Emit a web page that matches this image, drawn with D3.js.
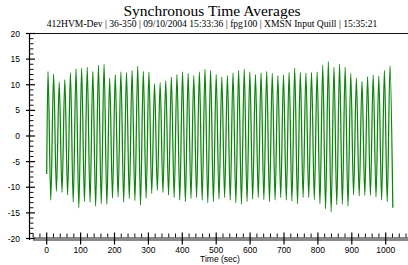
<!DOCTYPE html>
<html><head><meta charset="utf-8">
<script src="https://cdn.jsdelivr.net/npm/d3@7"></script>
<style>body{margin:0;background:#fff}svg{display:block}</style>
</head><body>
<script>
const titleText = "Synchronous Time Averages";
const subtitleText = "412HVM-Dev | 36-350 | 09/10/2004 15:33:36 | fpg100 | XMSN Input Quill | 15:35:21";
const xLabel = "Time (sec)";
const yTicks = [-20, -15, -10, -5, 0, 5, 10, 15, 20];
const xTicks = [0, 100, 200, 300, 400, 500, 600, 700, 800, 900, 1000];
const startTime = 0, startValue = -7.4;
const firstPeakTime = 3.8, cyclePeriod = 16.54;
const peaks = [12.6, 12.1, 10.5, 11.0, 12.3, 13.1, 13.2, 13.4, 12.6, 13.8, 14.0, 11.3, 12.0, 12.5, 12.4, 12.8, 13.6, 12.6, 12.5, 10.2, 10.4,
  10.8, 11.5, 12.0, 12.5, 12.2, 11.8, 12.5, 13.0, 12.8, 12.0, 11.5, 11.8, 12.3, 12.8, 13.0, 12.5, 12.0, 12.3, 12.6, 12.2, 11.8,
  11.9, 12.4, 13.2, 12.4, 12.3, 12.4, 12.5, 13.8, 14.5, 13.4, 14.0, 13.4, 12.2, 11.3, 10.7, 11.6, 11.9, 11.7, 12.8, 13.7];
const troughs = [-12.5, -10.8, -11.0, -11.5, -12.9, -14.0, -12.8, -12.9, -13.7, -13.2, -13.3, -12.1, -11.9, -12.9, -12.2, -12.6, -13.5, -12.1, -11.2, -10.6,
  -11.0, -11.5, -12.0, -12.5, -12.8, -12.2, -12.0, -12.5, -13.0, -12.8, -12.3, -12.0, -12.5, -13.0, -13.3, -12.8, -12.3, -12.0, -12.4, -12.8, -12.5,
  -12.0, -12.5, -12.7, -13.2, -12.0, -12.0, -12.4, -13.2, -14.2, -14.8, -13.4, -13.3, -13.7, -11.5, -11.7, -11.6, -11.6, -11.9, -12.5, -12.8, -14.0];

const W = 408, H = 265;
const svg = d3.select("body").append("svg").attr("width", W).attr("height", H);
const x = d3.scaleLinear().domain([0, 1000]).range([46.7, 385.7]);
const y = d3.scaleLinear().domain([-20, 20]).range([238.5, 33.5]);

const data = [[startTime, startValue]];
peaks.forEach((p, i) => {
  data.push([firstPeakTime + i * cyclePeriod, p]);
  data.push([firstPeakTime + (i + 0.5) * cyclePeriod, troughs[i]]);
});

svg.append("text").attr("x", 212).attr("y", 16).attr("text-anchor", "middle")
  .style("font-family", "'Liberation Serif', serif").style("font-size", "15.5px").text(titleText);
svg.append("text").attr("x", 212).attr("y", 26.5).attr("text-anchor", "middle")
  .style("font-family", "'Liberation Serif', serif").style("font-size", "9.6px").text(subtitleText);

svg.append("line").attr("x1", 29).attr("x2", W).attr("y1", 33.5).attr("y2", 33.5)
  .attr("stroke", "#111").attr("stroke-width", 1.2);

svg.append("rect").attr("x", 33).attr("y", 237).attr("width", W - 33).attr("height", 4).attr("fill", "#8a8a8a");
const xMinor = d3.range(-40, 1070, 20).filter(v => v % 100 !== 0);
svg.append("g").selectAll("line").data(xMinor).join("line")
  .attr("x1", d => x(d)).attr("x2", d => x(d)).attr("y1", 233.5).attr("y2", 237.5)
  .attr("stroke", "#111").attr("stroke-width", 1);
svg.append("g").selectAll("line").data(xTicks).join("line")
  .attr("x1", d => x(d)).attr("x2", d => x(d)).attr("y1", 232.5).attr("y2", 244.5)
  .attr("stroke", "#000").attr("stroke-width", 1.2);
svg.append("g").selectAll("text").data(xTicks).join("text")
  .attr("x", d => x(d)).attr("y", 252.5).attr("text-anchor", "middle")
  .style("font-family", "'Liberation Sans', Arial, sans-serif").style("font-size", "8.5px").text(d => d);
svg.append("text").attr("x", 220).attr("y", 262).attr("text-anchor", "middle")
  .style("font-family", "'Liberation Sans', Arial, sans-serif").style("font-size", "8.5px").text(xLabel);

svg.append("line").attr("x1", 29.5).attr("x2", 29.5).attr("y1", 33).attr("y2", 240)
  .attr("stroke", "#000").attr("stroke-width", 1.2);
const yMinor = d3.range(-20, 21, 1).filter(v => v % 5 !== 0);
svg.append("g").selectAll("line").data(yMinor).join("line")
  .attr("x1", 29.5).attr("x2", 33.5).attr("y1", d => y(d)).attr("y2", d => y(d))
  .attr("stroke", "#111").attr("stroke-width", 1);
svg.append("g").selectAll("line").data(yTicks).join("line")
  .attr("x1", 26).attr("x2", 35).attr("y1", d => y(d)).attr("y2", d => y(d))
  .attr("stroke", "#000").attr("stroke-width", 1.2);
svg.append("g").selectAll("text").data(yTicks).join("text")
  .attr("x", 20).attr("y", d => y(d) + 3).attr("text-anchor", "end")
  .style("font-family", "'Liberation Sans', Arial, sans-serif").style("font-size", "8.5px").text(d => d);

svg.append("path").datum(data)
  .attr("d", d3.line().x(d => x(d[0])).y(d => y(d[1])).curve(d3.curveMonotoneX))
  .attr("fill", "none").attr("stroke", "#0a850a").attr("stroke-width", 1.25);
</script>
</body></html>
